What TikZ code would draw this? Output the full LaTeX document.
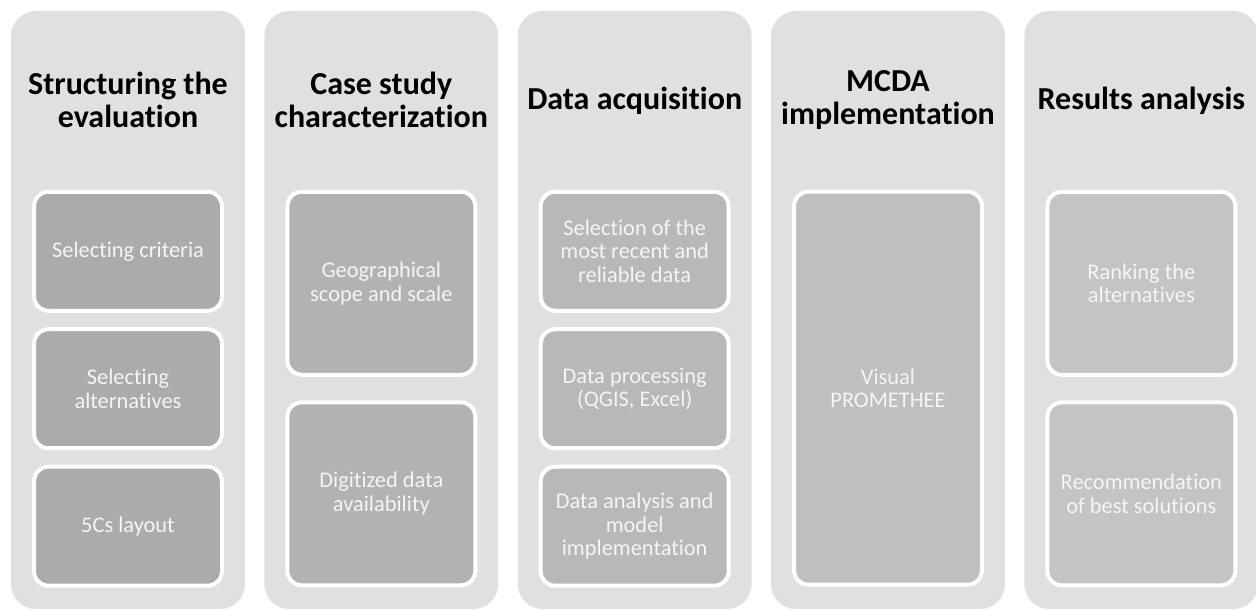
\documentclass[tikz,border=0pt]{standalone}
\usepackage{fontspec}
\setmainfont{Carlito}[Ligatures=NoCommon]
\usetikzlibrary{shapes}

\definecolor{panel}{HTML}{E0E0E0}
\definecolor{shadeA}{HTML}{ABABAB}
\definecolor{shadeB}{HTML}{B2B2B2}
\definecolor{shadeC}{HTML}{B8B8B8}
\definecolor{shadeD}{HTML}{BFBFBF}
\definecolor{shadeE}{HTML}{C4C4C4}

\tikzstyle{column} = [rectangle, rounded corners=18.75pt, fill=panel, minimum width=175.5pt, minimum height=448.5pt]
\tikzstyle{title} = [align=center, text=black, font=\fontsize{24}{24.5}\selectfont\bfseries]
\tikzstyle{task} = [rectangle, rounded corners=11pt, draw=white, line width=3pt, text=white!96!black, align=center, minimum width=141pt, font=\fontsize{16.8}{17.8}\selectfont]
\tikzstyle{taskshort} = [task, minimum height=89.25pt]
\tikzstyle{tasktall} = [task, minimum height=137.25pt]
\tikzstyle{tasklong} = [task, minimum height=294.75pt]

\begin{document}
\begin{tikzpicture}[x=0.75pt, y=-0.75pt, node distance=190pt]

    % page frame
    \useasboundingbox (0,0) rectangle (1256,610);

    % We start by placing the five stage panels
    \node [column] (stage1) at (128,310) {};
    \node [column, right of=stage1] (stage2) {};
    \node [column, right of=stage2] (stage3) {};
    \node [column, right of=stage3] (stage4) {};
    \node [column, right of=stage4] (stage5) {};

    % headings of the stages
    \node [title] (head1) at ([yshift=-66.75pt]stage1.north) {Structuring the\\evaluation};
    \node [title] (head2) at ([yshift=-66.75pt]stage2.north) {Case study\\characterization};
    \node [title] (head3) at ([yshift=-67.5pt]stage3.north) {Data acquisition};
    \node [title] (head4) at ([yshift=-66.75pt]stage4.north) {MCDA\\implementation};
    \node [title] (head5) at ([yshift=-67.5pt]stage5.north) {Results analysis};

    % first stage
    \node [taskshort, fill=shadeA] (criteria) at ([yshift=-180.4pt]stage1.north) {Selecting criteria};
    \node [taskshort, fill=shadeA, below of=criteria, node distance=103.1pt] (alternatives) {Selecting\\alternatives};
    \node [taskshort, fill=shadeA, below of=alternatives, node distance=103.1pt] (layout) {5Cs layout};

    % second stage
    \node [tasktall, fill=shadeB] (scope) at ([yshift=-204.4pt]stage2.north) {Geographical\\scope and scale};
    \node [tasktall, fill=shadeB, below of=scope, node distance=157.9pt] (digitized) {Digitized data\\availability};

    % third stage
    \node [taskshort, fill=shadeC] (selection) at ([yshift=-180.4pt]stage3.north) {Selection of the\\most recent and\\reliable data};
    \node [taskshort, fill=shadeC, below of=selection, node distance=103.1pt] (processing) {Data processing\\(QGIS, Excel)};
    \node [taskshort, fill=shadeC, below of=processing, node distance=103.1pt] (analysis) {Data analysis and\\model\\implementation};

    % fourth stage
    \node [tasklong, fill=shadeD] (promethee) at ([yshift=-283.1pt]stage4.north) {Visual\\PROMETHEE};

    % fifth stage
    \node [tasktall, fill=shadeE] (ranking) at ([yshift=-204.4pt]stage5.north) {Ranking the\\alternatives};
    \node [tasktall, fill=shadeE, below of=ranking, node distance=157.9pt] (recommend) {Recommendation\\of best solutions};

\end{tikzpicture}
\end{document}
